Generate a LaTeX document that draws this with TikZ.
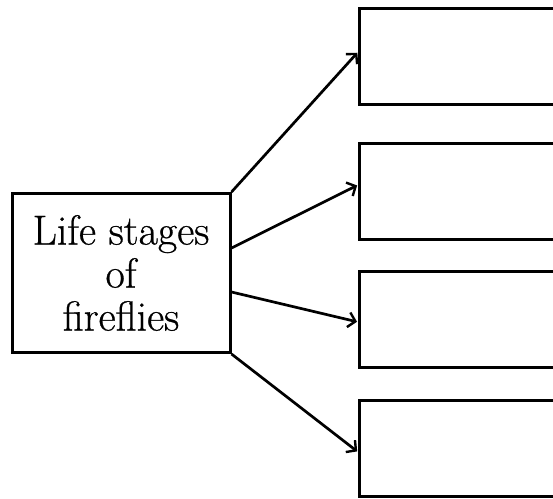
\documentclass[tikz,border=0pt]{standalone}
\usepackage{fontspec}
\newfontfamily\heavyserif{Latin Modern Roman}[FakeBold=0.6]
\usetikzlibrary{arrows.meta}
\begin{document}
\begin{tikzpicture}[x=1pt,y=-1pt,
  box/.style={draw=black,line width=3pt,rectangle,inner sep=0pt},
  emptybox/.style={box,minimum width=230pt,minimum height=96pt,anchor=west},
  conn/.style={line width=2.7pt,-{Straight Barb[length=7pt,width=15pt,line width=2.4pt]},shorten >=1pt}]
\useasboundingbox (0,0) rectangle (553,498);
\clip (0,0) rectangle (553,498);
\fill[white] (0,0) rectangle (553,498);
\node[box,minimum width=218pt,minimum height=159pt,align=center,
  font=\heavyserif\fontsize{42}{43}\selectfont] (L) at (121,273) {Life stages\\of\\fireflies};
\node[emptybox] (b1) at (358,56) {};
\node[emptybox] (b2) at (358,191) {};
\node[emptybox] (b3) at (358,319.5) {};
\node[emptybox] (b4) at (358,448) {};
\draw[conn] (L.north east) -- ([yshift=4pt]b1.west);
\draw[conn] ([yshift=25pt]L.east) -- ([yshift=6pt]b2.west);
\draw[conn] ([yshift=-19pt]L.east) -- ([yshift=-2.5pt]b3.west);
\draw[conn] (L.south east) -- ([yshift=-4pt]b4.west);
\end{tikzpicture}
\end{document}
